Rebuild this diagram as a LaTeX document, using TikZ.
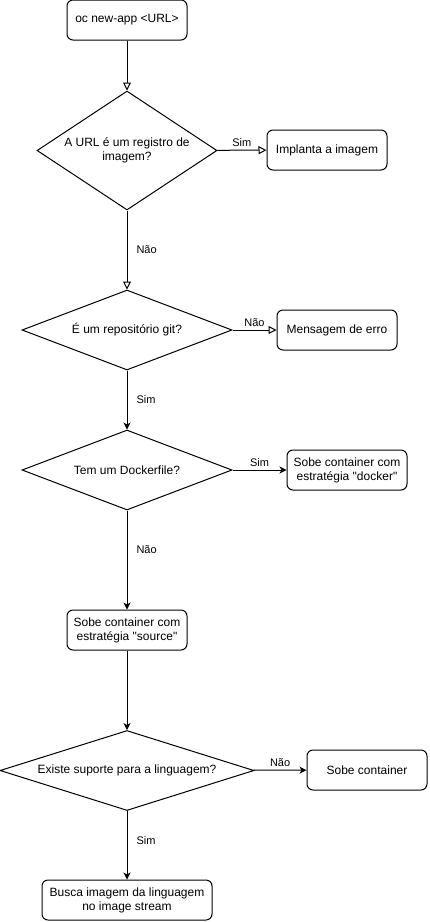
\documentclass[tikz,border=0pt]{standalone}
\usepackage{fontspec}
\setmainfont{Liberation Sans}
\usetikzlibrary{shapes.geometric,arrows.meta}
\tikzset{
  box/.style={draw, rounded corners=6pt, minimum width=120pt, minimum height=40pt,
    inner sep=2pt, align=center, font=\fontsize{12}{14}\selectfont},
  choice/.style={draw, diamond, inner sep=0pt, align=center, font=\fontsize{12}{14}\selectfont},
  lbl/.style={font=\fontsize{11}{13}\selectfont, inner sep=1pt},
  hollowarrow/.style={-{Triangle[open,length=8pt,width=8pt]}},
  fullarrow/.style={-{Stealth[length=7pt,width=7pt,inset=2pt]}}
}
\begin{document}
\begin{tikzpicture}[x=1pt, y=-1pt, line width=1pt]
      \useasboundingbox (0,0) rectangle (429,922);
      \node[box] (start) at (127,20) {oc new-app <URL>};
      \node[choice, aspect=1.5, minimum width=180pt, minimum height=119pt] (url) at (127,150.5) {A URL é um registro de\\imagem?};
      \node[box] (deploy) at (327,150) {Implanta a imagem};
      \node[choice, aspect=2.6, minimum width=210pt, minimum height=80pt] (git) at (127,330) {É um repositório git?};
      \node[box] (error) at (337,330) {Mensagem de erro};
      \node[choice, aspect=2.6, minimum width=210pt, minimum height=80pt] (dockerfile) at (127,470) {Tem um Dockerfile?};
      \node[box] (docker) at (347,470) {Sobe container com\\estratégia \textquotedbl docker\textquotedbl};
      \node[box] (source) at (127,630) {Sobe container com\\estratégia \textquotedbl source\textquotedbl};
      \node[choice, aspect=3.2, minimum width=254pt, minimum height=80pt] (lang) at (127,770.5) {Existe suporte para a linguagem?};
      \node[box] (plain) at (367,770) {Sobe container};
      \node[box, minimum width=170pt] (stream) at (127,900) {Busca imagem da linguagem\\no image stream};
      \begin{scope}[hollowarrow]
        \draw (start) -- (url);
        \draw (url) -- node[lbl, above=2pt] {Sim} (deploy);
        \draw (url) -- node[lbl, right=8pt] {Não} (git);
        \draw (git) -- node[lbl, above=2pt] {Não} (error);
      \end{scope}
      \begin{scope}[fullarrow]
        \draw (git) -- node[lbl, right=8pt] {Sim} (dockerfile);
        \draw (dockerfile) -- node[lbl, above=2pt] {Sim} (docker);
        \draw (dockerfile) -- node[lbl, right=8pt, pos=0.4] {Não} (source);
        \draw (source) -- (lang);
        \draw (lang) -- node[lbl, above=2pt] {Não} (plain);
        \draw (lang) -- node[lbl, right=8pt, pos=0.43] {Sim} (stream);
      \end{scope}
\end{tikzpicture}
\end{document}
